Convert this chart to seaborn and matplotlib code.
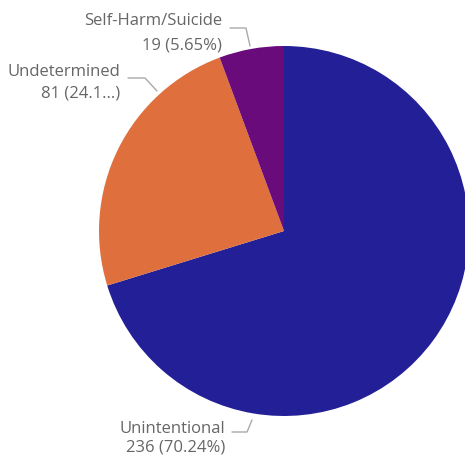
import matplotlib
matplotlib.use("Agg")
import matplotlib.pyplot as plt
from matplotlib.lines import Line2D
import seaborn as sns

categories = ["Unintentional", "Undetermined", "Self-Harm/Suicide"]
values = [236, 81, 19]
pct_labels = ["70.24%", "24.1...", "5.65%"]
colors = ["#221F97", "#DF703D", "#6A0B7B"]

sns.set_theme(style="white")
plt.rcParams['font.family'] = ['Open Sans', 'DejaVu Sans']

W, H = 465, 460
fig = plt.figure(figsize=(W / 100, H / 100), dpi=100)
cx, cy, R = 284, 232, 185
ax = fig.add_axes([(cx - R) / W, (H - cy - R) / H, 2 * R / W, 2 * R / H])
wedges, _ = ax.pie(values, colors=colors, startangle=90, counterclock=False,
                   radius=1, wedgeprops=dict(linewidth=0))
ax.set_xlim(-1, 1)
ax.set_ylim(-1, 1)
ax.set_aspect('equal')
ax.axis('off')
for w in wedges:
    w.set_clip_on(False)

def fx(px):
    return px / W

def fy(py):
    return (H - py) / H

text_color = "#666666"
line_color = "#AAAAAA"
fs = 12

# label layout (pixel positions): (right x, baseline y line1, baseline y line2, leader points)
layout = {
    "Self-Harm/Suicide": (222, 25, 49, [(230, 29), (246, 29), (250, 47)]),
    "Undetermined": (120, 76, 97, [(128, 79), (145, 79), (157, 92)]),
    "Unintentional": (225, 433, 452, [(232, 433), (247, 433), (252, 421)]),
}

for cat, val, pct in zip(categories, values, pct_labels):
    rx, b1, b2, pts = layout[cat]
    fig.text(fx(rx), fy(b1), cat, ha='right', va='baseline', fontsize=fs, color=text_color)
    fig.text(fx(rx), fy(b2), f"{val} ({pct})", ha='right', va='baseline', fontsize=fs, color=text_color)
    fig.add_artist(Line2D([fx(p[0]) for p in pts], [fy(p[1]) for p in pts],
                          transform=fig.transFigure, color=line_color, linewidth=1))

fig.savefig("out.png", dpi=100)
